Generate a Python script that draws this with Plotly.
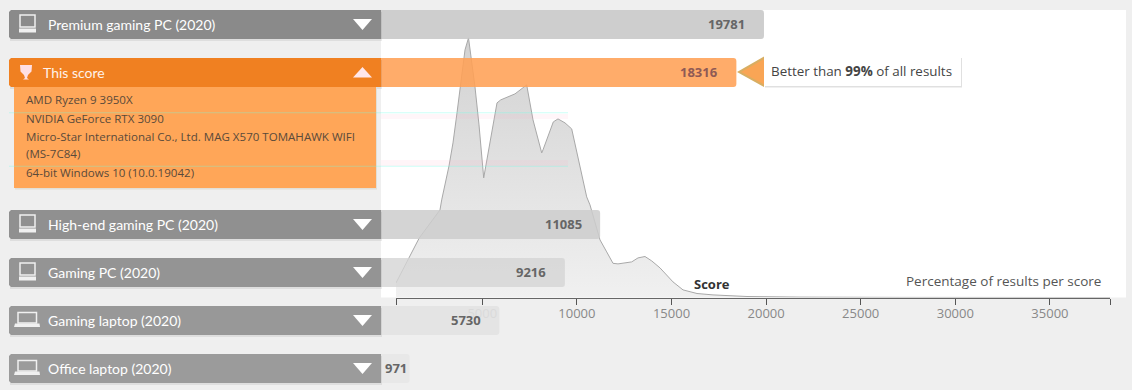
import plotly.graph_objects as go

W, H = 1132, 390

# ---- data ----
row_labels = ["Premium gaming PC (2020)", "This score", "High-end gaming PC (2020)",
              "Gaming PC (2020)", "Gaming laptop (2020)", "Office laptop (2020)"]
row_scores = [19781, 18316, 11085, 9216, 5730, 971]
detail_lines = ["AMD Ryzen 9 3950X", "NVIDIA GeForce RTX 3090",
                "Micro-Star International Co., Ltd. MAG X570 TOMAHAWK WIFI",
                "(MS-7C84)", "64-bit Windows 10 (10.0.19042)"]
density_score = [439, 1126, 1670, 2764, 2854, 3240, 3451, 3663, 3874, 4086, 4271, 4614, 4826, 5074,
                 5777, 5973, 6728, 7347, 7680, 8140, 8208, 8753, 9001, 9371, 9725, 10164, 10518,
                 10692, 11221, 11575, 11908, 12172, 12896, 13230, 13599, 13953, 14392, 15079,
                 15608, 16348, 17194, 18991, 21792, 27077, 38176]
density_pct = [0.73, 1.98, 2.98, 4.38, 4.88, 6.58, 7.73, 9.23, 10.88, 12.38, 12.98, 10.53, 8.63, 5.98,
               9.73, 9.88, 10.18, 10.63, 8.88, 7.23, 7.38, 8.78, 8.93, 8.73, 8.43, 6.63, 5.03,
               4.63, 2.88, 2.28, 1.71, 1.68, 1.78, 1.98, 2.05, 1.83, 1.48, 0.78,
               0.38, 0.20, 0.13, 0.05, 0.02, 0.005, 0.0]
tick_vals = [439, 5000, 10000, 15000, 20000, 25000, 30000, 35000, 38176]
tick_text = ["", "5000", "10000", "15000", "20000", "25000", "30000", "35000", ""]

# ---- layout constants ----
row_centers = [24.5, 72.5, 224.5, 272.5, 320.5, 368.5]
header_colors = ["#8a8a8a", "#f08021", "#909090", "#949494", "#989898", "#9b9b9b"]
bar_colors = ["rgba(198,198,198,.85)", "rgba(255,160,85,.88)", "rgba(204,204,204,.85)",
              "rgba(212,212,212,.8)", "rgba(226,226,226,.9)", "rgba(231,231,231,.92)"]
icons = ["desktop", "trophy", "desktop", "desktop", "laptop", "laptop"]
SLOPE, ZERO_PX = 0.01884, 391.3
BAR_BASE = -1000
TEXT_NUDGE = -2.5


def px(x):
    return x / W


def py(y):
    return 1 - y / H


def P(pts, close=True):
    s = "M" + " L".join(f"{px(x):.5f},{py(y):.5f}" for x, y in pts)
    return s + (" Z" if close else "")


shapes = []


def add_rect(x0, y0, x1, y1, fill, layer="above", line=None):
    shapes.append(dict(type="rect", xref="paper", yref="paper", x0=px(x0), x1=px(x1), y0=py(y0), y1=py(y1),
                       fillcolor=fill, line=dict(width=0) if line is None else line, layer=layer))


def add_path(pts, fill, layer="above"):
    shapes.append(dict(type="path", xref="paper", yref="paper", path=P(pts), fillcolor=fill,
                       line=dict(width=0), layer=layer))


# white chart area
add_rect(381, 10, 1126, 297.5, "#ffffff", layer="below")

annotations = []


def text(x, y, s, size=13, color="#555555", family="Open Sans", anchor="left"):
    annotations.append(dict(xref="paper", yref="paper", x=px(x + TEXT_NUDGE), y=py(y), text=s, showarrow=False,
                            xanchor=anchor, yanchor="middle", align="left",
                            font=dict(family=family, size=size, color=color)))


ICON = "#f0f0f0"
for label, score, cy, hc, icon in zip(row_labels, row_scores, row_centers, header_colors, icons):
    top, bot = cy - 14.5, cy + 14.5
    add_rect(10, top + 2, 382, bot + 2, "rgba(0,0,0,0.07)")
    # header with rounded left corners
    add_path([(9, top + 2), (11, top), (381, top), (381, bot), (11, bot), (9, bot - 2)], hc)
    is_this = label == "This score"
    if is_this:
        add_path([(353, cy + 5), (362.5, cy - 5.5), (372, cy + 5)], "#ffe6ea")
    else:
        add_path([(353, cy - 5.5), (372, cy - 5.5), (362.5, cy + 5.5)], "#ffffff")
    if icon == "desktop":
        shapes.append(dict(type="rect", xref="paper", yref="paper", x0=px(20), x1=px(35), y0=py(cy - 9.5), y1=py(cy + 2.5),
                           line=dict(color=ICON, width=1.5), fillcolor="rgba(0,0,0,0)", layer="above"))
        add_rect(19, cy + 4, 36, cy + 8, ICON)
    elif icon == "laptop":
        shapes.append(dict(type="rect", xref="paper", yref="paper", x0=px(18), x1=px(36.5), y0=py(cy - 8), y1=py(cy + 2.5),
                           line=dict(color=ICON, width=1.5), fillcolor="rgba(0,0,0,0)", layer="above"))
        add_path([(15, cy + 3), (39.5, cy + 3), (40, cy + 6.5), (14, cy + 6.5)], ICON)
    else:
        add_path([(20, cy - 7.5), (32, cy - 7.5), (31.5, cy - 1), (28, cy + 2.5), (27, cy + 5.5), (29, cy + 7),
                  (23, cy + 7), (25, cy + 5.5), (24, cy + 2.5), (20.5, cy - 1)], "#ffdfe3")
    text(43.5 if is_this else 48.5, cy, label, size=14, color="#ffffff" if not is_this else "#fff2ea", family="Lato")
    # value label, in bar scale
    annotations.append(dict(xref="x2", yref="y2", x=score, y=cy - 0.5, text=f"<b>{score}</b>", showarrow=False,
                            xanchor="right", yanchor="middle", xshift=-1 if score < 1500 else -16.5,
                            font=dict(family="Open Sans", size=13,
                                      color="#8f5a55" if is_this else "#666666")))

# expanded detail panel
add_rect(15, 89, 377, 189.5, "rgba(120,90,0,0.10)")
add_rect(14, 87, 376, 188, "#ffa658")
for i, line in enumerate(detail_lines):
    text(26, 100 + 18 * i, line, size=11.55, color="#5a4a3a")

# callout
add_rect(765, 58, 962, 87.5, "rgba(0,0,0,0.12)")
add_rect(764, 57, 961, 86, "#ffffff")
add_path([(737, 72), (764, 56.5), (764, 87)], "#d8ae62")
add_path([(741, 72), (764, 59), (764, 84.5)], "#f9a555")
text(771.5, 71, "Better than <b>99%</b> of all results", size=13.4, color="#444444")

text(694, 283.5, "<b>Score</b>", size=13, color="#333333")
text(906, 281, "Percentage of results per score", size=13.5, color="#555555")

# faint horizontal streaks visible in the reference
for y in (112.7, 166.3):
    add_rect(9, y - 0.5, 568, y + 0.5, "rgba(110,255,230,0.35)")
add_rect(381, 114, 568, 119, "rgba(255,170,200,0.10)")
add_rect(381, 160, 568, 166, "rgba(255,170,200,0.12)")

fig = go.Figure()
fig.add_trace(go.Scatter(
    x=density_score, y=density_pct, mode="lines", xaxis="x", yaxis="y",
    line=dict(color="#a8a8a8", width=1), fill="tozeroy",
    fillgradient=dict(type="vertical", colorscale=[[0, "#f0f0f0"], [1, "#d2d2d2"]]),
    hoverinfo="skip", showlegend=False, cliponaxis=False))
fig.add_trace(go.Bar(
    x=[s - BAR_BASE for s in row_scores], base=BAR_BASE, y=row_centers, orientation="h",
    width=29, xaxis="x2", yaxis="y2", marker=dict(color=bar_colors, line=dict(width=0)),
    hoverinfo="skip", showlegend=False))

fig.update_layout(
    width=W, height=H, margin=dict(l=0, r=0, t=0, b=0), paper_bgcolor="#efefef", plot_bgcolor="rgba(0,0,0,0)",
    barcornerradius=3, shapes=shapes, annotations=annotations, showlegend=False,
    xaxis=dict(domain=[396 / W, 1110 / W], range=[439, 38176], tickmode="array", tickvals=tick_vals,
               ticktext=tick_text, ticks="outside", ticklen=6, tickcolor="#555555", tickwidth=1,
               showline=True, linecolor="#666666", linewidth=1, showgrid=False, zeroline=False,
               ticklabelstandoff=-2,
               tickfont=dict(family="Open Sans", size=13, color="#888888"), anchor="y"),
    yaxis=dict(domain=[(H - 297.5) / H, 1], range=[0, 14.875], visible=False, anchor="x"),
    xaxis2=dict(domain=[0, 1], range=[-ZERO_PX / SLOPE, (W - ZERO_PX) / SLOPE], visible=False, anchor="y2"),
    yaxis2=dict(domain=[0, 1], range=[H, 0], visible=False, anchor="x2"),
)
fig.write_html("out.html", config={"displayModeBar": False},
               post_script="document.body.style.margin='0';document.documentElement.style.overflow='hidden';")
